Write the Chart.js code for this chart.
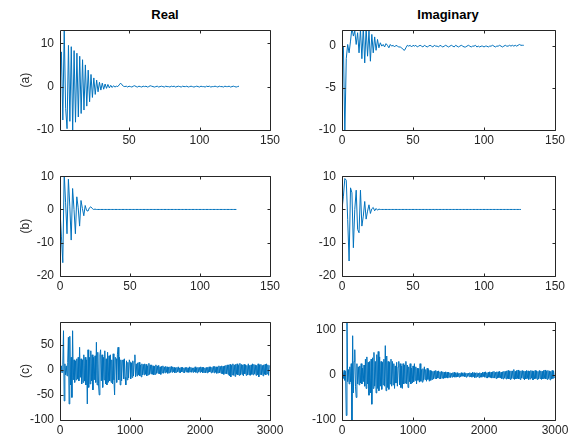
<!DOCTYPE html>
<html>
<head>
<meta charset="utf-8">
<title>Real and imaginary parts</title>
<script src="https://cdn.jsdelivr.net/npm/chart.js@4.4.1/dist/chart.umd.min.js"></script>
<style>
  html, body { margin: 0; padding: 0; background: #fff; }
  #page { position: relative; width: 576px; height: 443px; overflow: hidden; font-family: "Liberation Sans", Arial, sans-serif; }
  #page canvas { position: absolute; }
  .col-title { position: absolute; top: 7px; width: 240px; text-align: center; font-weight: bold; font-size: 13px; line-height: 16px; color: #000; }
</style>
</head>
<body>
<div id="page">
  <div class="col-title" style="left:45px">Real</div>
  <div class="col-title" style="left:328px">Imaginary</div>
</div>
<script>
// row (a): samples 1..128
const aReal = [
  -1, 8, -7.7, 13.3, -5, -9.7, 9.5, -8, 9.2, -10,
  8.3, -8.2, 7.7, -7, 7, -6.2, 6.2, -5.4, 5, -4.5,
  3.8, -3.5, 2.8, -2.5, 2, -1.8, 1.5, -1.2, 1, -0.8,
  0.8, -0.6, 0.6, -0.4, 0.5, -0.3, 0.3, -0.2, 0.2, -0.1,
  0.1, 0, 0.4, 0.8, 0.4, 0.1, 0, 0.1, -0.1, 0.1,
  0, -0.1, 0.1, 0.2, 0, -0.1, 0.1, 0, -0.1, 0.1,
  0, 0.1, -0.1, 0, 0.2, 0.1, 0, -0.1, 0, 0.1,
  -0.1, 0, 0.1, 0, -0.1, 0.1, 0, 0, -0.1, 0.1,
  0, 0.1, -0.1, 0, 0.1, 0, -0.1, 0.1, 0, 0,
  0.1, -0.1, 0, 0.1, 0, -0.1, 0, 0.1, 0, -0.1,
  0.1, 0, 0, -0.1, 0.1, 0, 0.1, -0.1, 0, 0,
  0.1, 0, -0.1, 0.1, 0, 0, -0.1, 0.1, 0, 0,
  0.1, -0.1, 0, 0.1, 0, -0.1, 0, 0.1
];
const aImag = [
  0, -10.5, -1.5, 0.2, -0.8, 0.6, 2.2, 1.2, 1.8, 0.2,
  1.6, -0.8, 2.0, -1.5, 2.3, -2.0, 2.2, -1.2, 1.8, -1.8,
  1.4, -0.8, 1.1, -0.5, 0.8, -0.2, 0.4, 0, 0.2, -0.1,
  0.3, 0.1, -0.2, 0.2, 0, 0.1, -0.1, 0.1, 0, -0.1,
  -0.1, -0.2, -0.4, -0.5, -0.2, 0.1, 0, 0.1, -0.1, 0.1,
  0, 0.1, -0.1, 0, 0.1, 0, -0.1, 0.1, 0, -0.1,
  0, 0.1, 0, -0.1, 0.1, 0, 0, -0.1, 0.1, 0,
  -0.1, 0, 0.1, 0, -0.1, 0, 0.1, 0, -0.1, 0.1,
  0, -0.1, 0, 0.1, 0, -0.1, -0.1, 0, 0.1, 0,
  -0.1, 0, 0, 0.1, -0.1, 0, -0.1, 0, 0, -0.1,
  0, 0, -0.1, 0, 0, 0.1, 0, -0.1, 0, 0,
  0.1, 0, -0.1, 0, 0.1, 0, 0, 0.1, 0, 0.1,
  0, 0.1, 0, 0.1, 0.2, 0.1, 0.1, 0.1
];

// row (b): samples 0..126
const bReal = [
  0, -8, -16, 11, 2, -7.3, 9.1, 1, -9.2, 6.3,
  0, -7.3, 3.8, 0.5, -5, 2.7, 0.3, -1.9, 1.2, -0.3,
  -0.5, 0.5, 0.8, 0.3, 0, 0.1, 0, 0, 0, 0,
  0, 0, 0, 0, 0, 0, 0, 0, 0, 0,
  0, 0, 0, 0, 0, 0, 0, 0, 0, 0,
  0, 0, 0, 0, 0, 0, 0, 0, 0, 0,
  0, 0, 0, 0, 0, 0, 0, 0, 0, 0,
  0, 0, 0, 0, 0, 0, 0, 0, 0, 0,
  0, 0, 0, 0, 0, 0, 0, 0, 0, 0,
  0, 0, 0, 0, 0, 0, 0, 0, 0, 0,
  0, 0, 0, 0, 0, 0, 0, 0, 0, 0,
  0, 0, 0, 0, 0, 0, 0, 0, 0, 0,
  0, 0, 0, 0, 0, 0, 0
];
const bImag = [
  0, 4, 9.3, 8.8, -3, -15.5, 6.5, 5, -11.5, 0,
  5.8, -6, -7, 5.8, -5, -2, 2.4, -2.9, -0.5, 1.4,
  -1.2, 0.2, 0.6, -0.4, 0.3, -0.2, 0.1, 0, 0, 0,
  0, 0, 0, 0, 0, 0, 0, 0, 0, 0,
  0, 0, 0, 0, 0, 0, 0, 0, 0, 0,
  0, 0, 0, 0, 0, 0, 0, 0, 0, 0,
  0, 0, 0, 0, 0, 0, 0, 0, 0, 0,
  0, 0, 0, 0, 0, 0, 0, 0, 0, 0,
  0, 0, 0, 0, 0, 0, 0, 0, 0, 0,
  0, 0, 0, 0, 0, 0, 0, 0, 0, 0,
  0, 0, 0, 0, 0, 0, 0, 0, 0, 0,
  0, 0, 0, 0, 0, 0, 0, 0, 0, 0,
  0, 0, 0, 0, 0, 0, 0
];

// row (c): one reading every 10 samples, 0..2990
const cStep = 10;
const cReal = [
  3, -6, 8, -5, 10, 78, -62, 12, -10, 8,
  -12, 15, 65, -68, 67, -30, 25, -55, 78, -20,
  20, -25, 18, -20, 22, -18, 25, -22, 45, -15,
  22, -28, 20, -25, 30, -22, 25, -30, 20, -68,
  40, -35, 25, -28, 38, -22, 30, -40, 25, -20,
  28, -25, 55, -30, 35, -28, -50, 30, 40, -22,
  30, -35, 25, -20, 38, -28, 22, -30, 35, -25,
  28, -22, 30, -25, 20, -28, 32, -20, -50, 25,
  22, -25, 30, 45, -20, 25, -30, 20, -22, 18,
  20, -18, 22, -15, -30, 18, -20, 15, -16, 20,
  15, -18, 14, -15, 18, -12, 16, 30, -14, 12,
  -12, 14, -10, 15, -12, 10, -14, 12, -10, 11,
  -10, 12, -9, 11, -12, 8, -10, 13, -9, 10,
  -8, 10, -9, 8, -10, 7, -9, 10, -7, 8,
  -7, 9, -8, 6, -9, 7, -6, 8, -7, 6,
  -6, 7, -5, 6, -7, 5, -6, 6, -5, 7,
  -5, 6, -4, 5, -6, 4, -5, 5, -4, 6,
  -5, 4, -6, 5, -4, 5, -5, 4, -6, 5,
  -4, 5, -5, 4, -5, 6, -4, 5, -5, 4,
  -5, 4, -4, 6, -5, 4, -6, 5, -4, 5,
  -5, 6, -4, 5, -6, 5, -5, 4, -6, 5,
  -6, 5, -5, 6, -4, 6, -6, 5, -5, 7,
  -6, 7, -5, 6, -7, 6, -6, 8, -6, 7,
  -7, 8, -8, 7, -9, 8, -7, 9, -8, 10,
  -9, 10, -12, 11, -14, 9, -10, 12, -11, 10,
  -13, 11, -9, 12, -10, 9, -11, 13, -10, 11,
  -9, 10, -12, 11, -8, 10, -11, 9, -10, 12,
  -10, 9, -11, 10, -9, 12, -10, 11, -8, 10,
  -11, 9, -10, 12, -14, 10, -9, 11, -10, 9,
  -12, 10, -9, 11, -10, 12, -8, 10, -11, 9
];
const cImag = [
  0, 6, -8, 10, -12, 8, -90, 125, -15, 12,
  -20, 18, -15, 25, -105, 87, -40, 30, 56, -25,
  -50, 25, -20, 18, -22, 20, -18, 25, -20, 15,
  -15, 22, -25, 35, -30, 40, -20, 28, -45, 30,
  -40, 35, -65, 38, -30, 50, -25, 30, -40, 45,
  -30, 52, -35, 40, -25, 30, -32, 28, -22, 35,
  -25, 65, -35, 42, -28, 30, -32, 28, -20, 35,
  -25, 30, -22, 25, -30, 20, -18, 28, -25, 18,
  30, -22, 25, -28, 20, -30, 25, -20, 22, -18,
  30, -20, 22, -28, 18, -15, 25, -20, 15, -18,
  20, -15, 25, -12, 18, -20, 15, -12, 14, -16,
  25, -14, 12, -16, 14, -12, 18, -10, 12, -14,
  15, -10, 12, -14, 10, -12, 9, -10, 8, -9,
  9, -8, 10, -9, 8, -7, 9, -8, 7, -9,
  8, -7, 7, -8, 6, -7, 7, -6, 6, -7,
  6, -5, 5, -6, 4, -5, 5, -4, 6, -5,
  4, -5, 5, -4, 3, -5, 4, -4, 5, -3,
  4, -3, 5, -4, 3, -5, 4, -3, 4, -4,
  5, -4, 4, -5, 6, -4, 5, -6, 4, -5,
  5, -4, 4, -6, 5, -5, 4, -5, 6, -4,
  6, -5, 7, -6, 5, -7, 6, -5, 7, -6,
  6, -7, 7, -6, 8, -7, 6, -8, 7, -7,
  7, -6, 8, -7, 6, -8, 7, -9, 8, -7,
  8, -9, 9, -8, 10, -9, 8, -10, 9, -8,
  9, -8, 12, -10, 8, -9, 10, -8, 11, -9,
  8, -10, 9, -7, 10, -8, 9, -11, 8, -9,
  10, -8, 9, -10, 8, -9, 10, -7, 9, -11,
  8, -9, 10, -8, 9, -10, 8, -9, 10, -8,
  9, -10, 8, -9, 10, -8, 11, -9, 8, -10,
  10, -8, 9, -11, 8, -9, 10, -8, 9, -7
];

// tick labels
const xTicksA = [50, 100, 150];
const xTicks150 = [0, 50, 100, 150];
const xTicks3000 = [0, 1000, 2000, 3000];
const yTicksARe = [-10, 0, 10];
const yTicksAIm = [-10, -5, 0];
const yTicksB = [-20, -10, 0, 10];
const yTicksCRe = [-100, -50, 0, 50];
const yTicksCIm = [-100, 0, 100];
const rowLabels = ['(a)', '(b)', '(c)'];

const FONT = '"Liberation Sans", Arial, sans-serif';
const AXIS_COLOR = '#262626';
const LINE_COLOR = '#0072bd';

const columns = [
  { left: 0, width: 290, yWidth: 60, padRight: 20 },
  { left: 290, width: 286, yWidth: 52, padRight: 21 }
];
const rows = [
  { top: 25, bottom: 130 },
  { top: 171, bottom: 276 },
  { top: 317, bottom: 420 }
];

const panels = [
  { row: 0, col: 0, values: aReal, x0: 1, step: 1, xMin: 1, xMax: 150, xTicks: xTicksA, yMin: -10, yMax: 13, yTicks: yTicksARe },
  { row: 0, col: 1, values: aImag, x0: 1, step: 1, xMin: 0, xMax: 150, xTicks: xTicks150, yMin: -10, yMax: 1.9, yTicks: yTicksAIm },
  { row: 1, col: 0, values: bReal, x0: 0, step: 1, xMin: 0, xMax: 150, xTicks: xTicks150, yMin: -20, yMax: 10, yTicks: yTicksB },
  { row: 1, col: 1, values: bImag, x0: 0, step: 1, xMin: 0, xMax: 150, xTicks: xTicks150, yMin: -20, yMax: 10, yTicks: yTicksB },
  { row: 2, col: 0, values: cReal, x0: 0, step: cStep, xMin: 0, xMax: 3000, xTicks: xTicks3000, yMin: -100, yMax: 95, yTicks: yTicksCRe },
  { row: 2, col: 1, values: cImag, x0: 0, step: cStep, xMin: 0, xMax: 3000, xTicks: xTicks3000, yMin: -100, yMax: 117, yTicks: yTicksCIm }
];

// MATLAB-like box with inward tick marks on all four sides
const boxPlugin = {
  id: 'box',
  afterDatasetsDraw(chart) {
    const { ctx, chartArea: a, scales } = chart;
    const L = Math.round(a.left) + 0.5, R = Math.round(a.right) + 0.5;
    const T = Math.round(a.top) + 0.5, B = Math.round(a.bottom) + 0.5;
    const len = 3;
    ctx.save();
    ctx.strokeStyle = AXIS_COLOR;
    ctx.lineWidth = 1;
    ctx.beginPath();
    ctx.rect(L, T, R - L, B - T);
    scales.x.ticks.forEach(t => {
      const px = Math.round(scales.x.getPixelForValue(t.value)) + 0.5;
      ctx.moveTo(px, B); ctx.lineTo(px, B - len);
      ctx.moveTo(px, T); ctx.lineTo(px, T + len);
    });
    scales.y.ticks.forEach(t => {
      const py = Math.round(scales.y.getPixelForValue(t.value)) + 0.5;
      ctx.moveTo(L, py); ctx.lineTo(L + len, py);
      ctx.moveTo(R, py); ctx.lineTo(R - len, py);
    });
    ctx.stroke();
    ctx.restore();
  }
};

const page = document.getElementById('page');

panels.forEach(p => {
  const col = columns[p.col];
  const row = rows[p.row];
  const padTop = 8, xHeight = 24;
  const h = row.bottom - row.top + padTop + xHeight;

  const canvas = document.createElement('canvas');
  canvas.width = col.width;
  canvas.height = h;
  canvas.style.left = col.left + 'px';
  canvas.style.top = (row.top - padTop) + 'px';
  canvas.style.width = col.width + 'px';
  canvas.style.height = h + 'px';
  page.appendChild(canvas);

  const points = p.values.map((v, i) => ({ x: p.x0 + i * p.step, y: v }));

  new Chart(canvas.getContext('2d'), {
    type: 'line',
    data: {
      datasets: [{
        data: points,
        borderColor: LINE_COLOR,
        borderWidth: 1,
        pointRadius: 0,
        tension: 0,
        fill: false
      }]
    },
    options: {
      responsive: false,
      animation: false,
      events: [],
      layout: { padding: { top: padTop, right: col.padRight, left: 0, bottom: 0 } },
      plugins: { legend: { display: false }, tooltip: { enabled: false } },
      scales: {
        x: {
          type: 'linear',
          min: p.xMin,
          max: p.xMax,
          grid: { display: false, drawTicks: false },
          border: { display: false },
          afterBuildTicks: s => { s.ticks = p.xTicks.map(v => ({ value: v })); },
          afterFit: s => { s.height = xHeight; },
          ticks: {
            color: AXIS_COLOR,
            font: { family: FONT, size: 12 },
            padding: 3,
            maxRotation: 0,
            autoSkip: false,
            callback: v => String(v)
          }
        },
        y: {
          min: p.yMin,
          max: p.yMax,
          grid: { display: false, drawTicks: false },
          border: { display: false },
          afterBuildTicks: s => { s.ticks = p.yTicks.map(v => ({ value: v })); },
          afterFit: s => { s.width = col.yWidth; },
          title: {
            display: p.col === 0,
            text: rowLabels[p.row],
            color: AXIS_COLOR,
            font: { family: FONT, size: 12 },
            padding: { top: 18, bottom: 0 }
          },
          ticks: {
            color: AXIS_COLOR,
            font: { family: FONT, size: 12 },
            padding: 6,
            autoSkip: false,
            callback: v => String(v)
          }
        }
      }
    },
    plugins: [boxPlugin]
  });
});
</script>
</body>
</html>
